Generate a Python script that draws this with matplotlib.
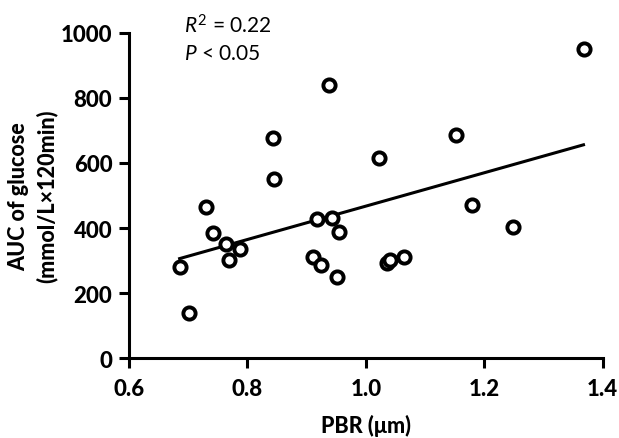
import matplotlib
matplotlib.use("Agg")
import matplotlib.pyplot as plt

# Data
pbr = [0.686, 0.702, 0.730, 0.742, 0.764, 0.769, 0.787, 0.843, 0.845,
       0.911, 0.917, 0.924, 0.937, 0.942, 0.952, 0.954, 1.022, 1.035,
       1.040, 1.064, 1.152, 1.179, 1.249, 1.369]
auc = [280, 139, 465, 385, 352, 302, 336, 677, 552,
       311, 429, 287, 839, 431, 250, 388, 615, 292,
       303, 311, 687, 470, 403, 949]

fit_x = [0.683, 1.370]
fit_y = [305, 657]

x_ticks = [0.6, 0.8, 1.0, 1.2, 1.4]
x_tick_labels = ["0.6", "0.8", "1.0", "1.2", "1.4"]
y_ticks = [0, 200, 400, 600, 800, 1000]
y_tick_labels = ["0", "200", "400", "600", "800", "1000"]

font = ["Lato", "DejaVu Sans"]
plt.rcParams["font.family"] = font
plt.rcParams["mathtext.fontset"] = "custom"
plt.rcParams["mathtext.rm"] = "Lato"
plt.rcParams["mathtext.it"] = "Lato:italic"

W = 900

fig = plt.figure(figsize=(6.19, 4.39), dpi=100)
ax = fig.add_axes([0.2084, 0.1815, 0.9737 - 0.2084, 0.9232 - 0.1815])

ax.plot(fit_x, fit_y, color="black", lw=2.2, zorder=2, solid_capstyle="butt")
ax.plot(pbr, auc, linestyle="none", marker="o", markersize=8.8,
        markerfacecolor="white", markeredgecolor="black", markeredgewidth=2.8,
        zorder=3, clip_on=False)

ax.set_xlim(0.6, 1.4)
ax.set_ylim(0, 1000)
ax.set_xticks(x_ticks)
ax.set_xticklabels(x_tick_labels)
ax.set_yticks(y_ticks)
ax.set_yticklabels(y_tick_labels)

for s in ["top", "right"]:
    ax.spines[s].set_visible(False)
for s in ["left", "bottom"]:
    ax.spines[s].set_linewidth(2.2)

ax.tick_params(axis="both", direction="out", length=7, width=2.2,
               labelsize=16)
ax.tick_params(axis="x", pad=7)
ax.tick_params(axis="y", pad=5)
for lab in ax.get_xticklabels() + ax.get_yticklabels():
    lab.set_fontweight(W)

ax.set_xlabel("PBR (μm)", fontsize=15.5, fontweight=W, labelpad=11)
ax.set_ylabel("AUC of glucose\n(mmol/L×120min)", fontsize=15.5,
              fontweight=W, linespacing=1.4)
ax.yaxis.set_label_coords(-0.150, 0.5)

fig.text(0.298, 0.940, r"$\mathit{R}^2$ = 0.22", fontsize=15, va="center")
fig.text(0.298, 0.878, r"$\mathit{P}$ < 0.05", fontsize=15, va="center")

fig.savefig("out.png", dpi=100)
